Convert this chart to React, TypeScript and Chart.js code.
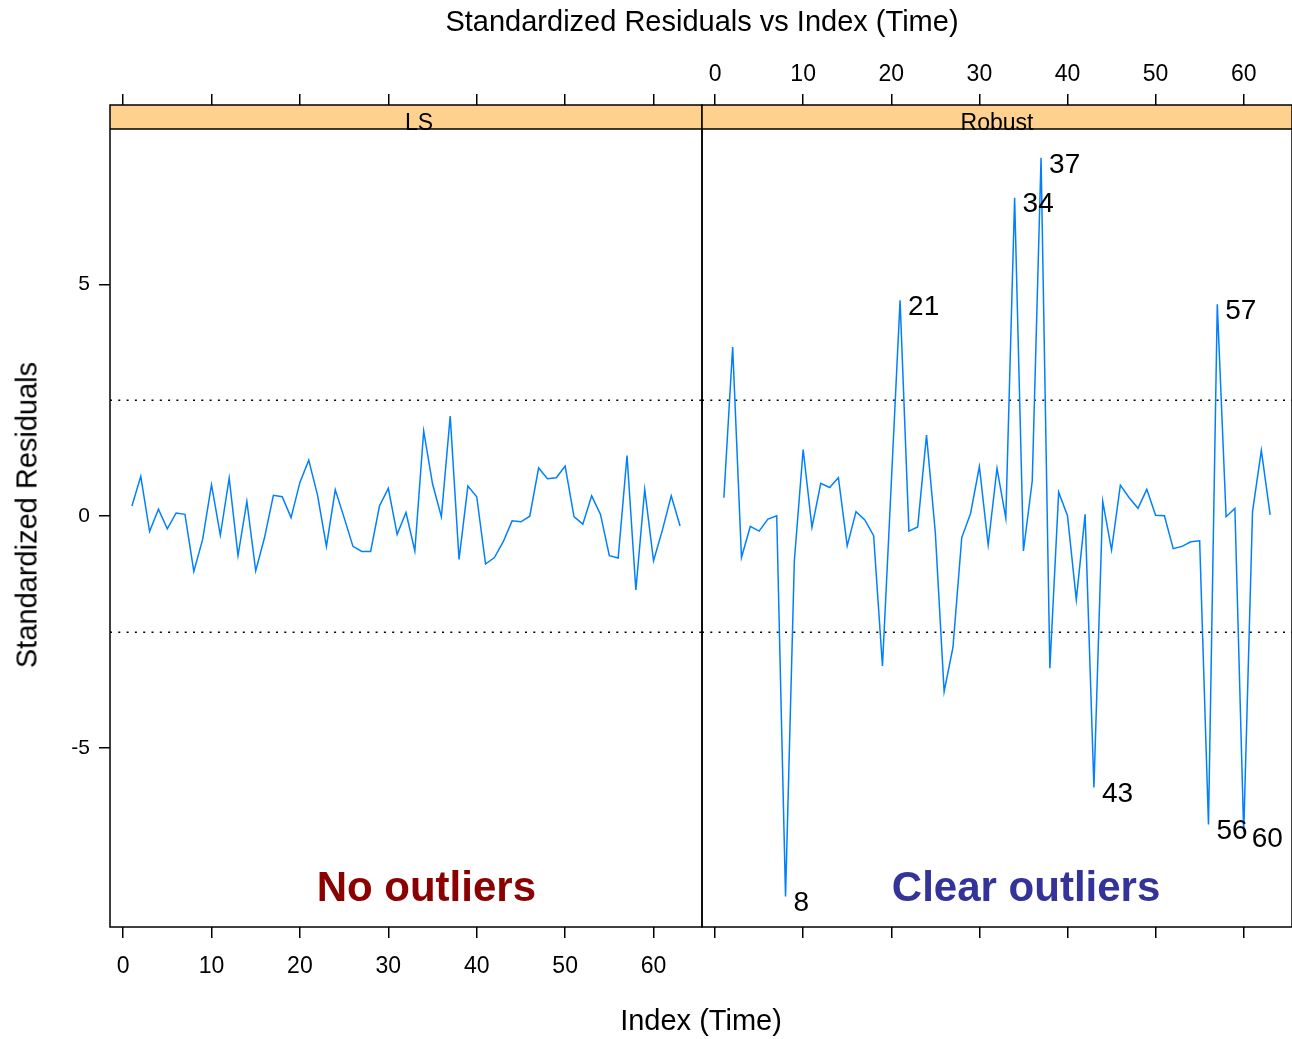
import React, { useEffect, useRef } from 'react';
import { Chart, registerables } from 'chart.js';

Chart.register(...registerables);

const FONT = '"Liberation Sans", Arial, Helvetica, sans-serif';

// ---- data ----
const timeIndex = [
  1, 2, 3, 4, 5, 6, 7, 8, 9, 10, 11, 12, 13, 14, 15, 16, 17, 18, 19, 20, 21,
  22, 23, 24, 25, 26, 27, 28, 29, 30, 31, 32, 33, 34, 35, 36, 37, 38, 39, 40, 41, 42,
  43, 44, 45, 46, 47, 48, 49, 50, 51, 52, 53, 54, 55, 56, 57, 58, 59, 60, 61, 62, 63,
];

const lsResiduals = [
  0.22, 0.86, -0.33, 0.15, -0.27, 0.07, 0.04, -1.19, -0.5, 0.68, -0.41, 0.82, -0.85, 0.32, -1.18,
  -0.46, 0.45, 0.42, -0.03, 0.73, 1.21, 0.45, -0.65, 0.57, -0.03, -0.65, -0.76, -0.76, 0.22, 0.6,
  -0.39, 0.08, -0.75, 1.84, 0.7, -0.01, 2.16, -0.93, 0.65, 0.42, -1.03, -0.89, -0.55, -0.1, -0.12,
  0.0, 1.04, 0.81, 0.83, 1.08, -0.01, -0.17, 0.44, 0.04, -0.85, -0.9, 1.31, -1.59, 0.58, -0.96,
  -0.3, 0.44, -0.21,
];

const robustResiduals = [
  0.4, 3.65, -0.89, -0.22, -0.32, -0.06, 0.01, -8.2, -0.96, 1.44, -0.24, 0.71, 0.62, 0.83, -0.64,
  0.1, -0.08, -0.42, -3.23, 0.7, 4.66, -0.32, -0.23, 1.75, -0.35, -3.78, -2.83, -0.46, 0.06, 1.07,
  -0.62, 1.03, -0.04, 6.87, -0.75, 0.76, 7.73, -3.28, 0.52, 0.01, -1.8, 0.04, -5.85, 0.32, -0.73,
  0.67, 0.4, 0.17, 0.58, 0.02, 0.01, -0.7, -0.65, -0.55, -0.53, -6.65, 4.57, -0.01, 0.17, -6.82,
  0.1, 1.42, 0.03,
];

const xTickValues = [0, 10, 20, 30, 40, 50, 60];
const yTickValues = [-5, 0, 5];
const cutoffValues = [2.5, -2.5];
const robustOutlierLabels = [8, 21, 34, 37, 43, 56, 57, 60];
const panelNames = ['LS', 'Robust'];
const panelNotes = ['No outliers', 'Clear outliers'];
const panelNoteX = [34.3, 35.3];
const panelNoteY = [-8.3, -8.3];

const X_MIN = -1.48;
const X_MAX = 65.48;
const Y_MIN = -8.86;
const Y_MAX = 8.87;

const STRIP_PX = 24;
const STRIP_FILL = '#ffd18f';
const LINE_COLOR = '#0080ff';
const NOTE_COLORS = ['#8b0000', '#333399'];

const W = 1292;
const H = 1039;
const PANEL_SPLIT = 702;

const panelDecor = {
  id: 'panelDecor',
  beforeDatasetsDraw(chart: any, _args: any, opts: any) {
    const { ctx, chartArea: a } = chart;
    ctx.save();
    ctx.fillStyle = STRIP_FILL;
    ctx.fillRect(a.left, a.top, a.right - a.left, STRIP_PX);
    ctx.fillStyle = '#000';
    ctx.font = `23px ${FONT}`;
    ctx.textAlign = 'center';
    ctx.textBaseline = 'alphabetic';
    ctx.fillText(opts.stripLabel, a.left + (a.right - a.left) * opts.stripFrac, a.top + STRIP_PX + 0.5);
    ctx.restore();
  },
  afterDatasetsDraw(chart: any, _args: any, opts: any) {
    const { ctx, chartArea: a } = chart;
    ctx.save();
    // frame + strip border
    ctx.strokeStyle = '#000';
    ctx.lineWidth = 1.5;
    ctx.strokeRect(a.left, a.top, a.right - a.left, a.bottom - a.top);
    ctx.beginPath();
    ctx.moveTo(a.left, a.top + STRIP_PX);
    ctx.lineTo(a.right, a.top + STRIP_PX);
    ctx.stroke();

    // outlier labels
    const meta = chart.getDatasetMeta(0);
    ctx.fillStyle = '#000';
    ctx.font = `28px ${FONT}`;
    ctx.textAlign = 'left';
    ctx.textBaseline = 'middle';
    (opts.pointLabels || []).forEach((lbl: number) => {
      const i = timeIndex.indexOf(lbl);
      const el = meta.data[i];
      if (el) ctx.fillText(String(lbl), el.x + 8, el.y + 7);
    });

    // panel note
    const xs = chart.scales.x;
    const ys = chart.scales.y;
    ctx.fillStyle = opts.noteColor;
    ctx.font = `bold 42px ${FONT}`;
    ctx.textAlign = 'center';
    ctx.textBaseline = 'alphabetic';
    ctx.fillText(opts.note, xs.getPixelForValue(opts.noteX), ys.getPixelForValue(opts.noteY));
    ctx.restore();
  },
};

function makeConfig(p: number): any {
  const isLeft = p === 0;
  const values = isLeft ? lsResiduals : robustResiduals;
  const xTickFont = { family: FONT, size: 23 };
  const yTickFont = { family: FONT, size: 21 };
  const grid = {
    display: true,
    drawOnChartArea: false,
    drawTicks: true,
    tickLength: 11,
    color: '#000',
    lineWidth: 1.5,
  };
  const setXTicks = (s: any) => {
    s.ticks = xTickValues.map((v) => ({ value: v }));
  };
  return {
    type: 'line',
    data: {
      datasets: [
        {
          data: timeIndex.map((t, i) => ({ x: t, y: values[i] })),
          borderColor: LINE_COLOR,
          borderWidth: 1.5,
          pointRadius: 0,
          tension: 0,
          fill: false,
        },
        ...cutoffValues.map((c) => ({
          data: [
            { x: X_MIN, y: c },
            { x: X_MAX, y: c },
          ],
          borderColor: '#000',
          borderWidth: 1.5,
          borderDash: [2, 6.3],
          pointRadius: 0,
          fill: false,
        })),
      ],
    },
    options: {
      responsive: false,
      animation: false,
      devicePixelRatio: 1,
      layout: {
        padding: isLeft
          ? { left: 0, right: W - PANEL_SPLIT, top: 0, bottom: 0 }
          : { left: PANEL_SPLIT, right: 0, top: 0, bottom: 0 },
      },
      scales: {
        x: {
          type: 'linear',
          position: 'bottom',
          min: X_MIN,
          max: X_MAX,
          afterBuildTicks: setXTicks,
          afterFit: (s: any) => {
            s.height = 112;
          },
          grid,
          border: { display: false },
          ticks: {
            display: isLeft,
            font: xTickFont,
            color: '#000',
            padding: 15,
            maxRotation: 0,
            autoSkip: false,
            callback: (v: any) => String(v),
          },
        },
        xTop: {
          type: 'linear',
          position: 'top',
          min: X_MIN,
          max: X_MAX,
          afterBuildTicks: setXTicks,
          afterFit: (s: any) => {
            s.height = 105;
          },
          grid,
          border: { display: false },
          ticks: {
            display: !isLeft,
            font: xTickFont,
            color: '#000',
            padding: 6,
            maxRotation: 0,
            autoSkip: false,
            callback: (v: any) => String(v),
          },
        },
        y: {
          type: 'linear',
          position: 'left',
          display: isLeft,
          min: Y_MIN,
          max: Y_MAX,
          afterBuildTicks: (s: any) => {
            s.ticks = yTickValues.map((v) => ({ value: v }));
          },
          afterFit: (s: any) => {
            s.width = isLeft ? 110 : 0;
          },
          grid,
          border: { display: false },
          ticks: {
            font: yTickFont,
            color: '#000',
            padding: 9,
            autoSkip: false,
            callback: (v: any) => String(v),
          },
        },
      },
      plugins: {
        legend: { display: false },
        tooltip: { enabled: false },
        title: { display: false },
        panelDecor: {
          stripLabel: panelNames[p],
          stripFrac: isLeft ? 0.522 : 0.5,
          pointLabels: isLeft ? [] : robustOutlierLabels,
          note: panelNotes[p],
          noteColor: NOTE_COLORS[p],
          noteX: panelNoteX[p],
          noteY: panelNoteY[p],
        },
      },
    },
    plugins: [panelDecor],
  };
}

export default function App() {
  const leftRef = useRef<HTMLCanvasElement | null>(null);
  const rightRef = useRef<HTMLCanvasElement | null>(null);

  useEffect(() => {
    const charts: Chart[] = [];
    if (leftRef.current) charts.push(new Chart(leftRef.current, makeConfig(0)));
    if (rightRef.current) charts.push(new Chart(rightRef.current, makeConfig(1)));
    return () => charts.forEach((c) => c.destroy());
  }, []);

  const textBase: React.CSSProperties = {
    position: 'absolute',
    fontFamily: FONT,
    color: '#000',
    lineHeight: 1,
    whiteSpace: 'nowrap',
  };

  return (
    <div
      style={{
        position: 'absolute',
        left: 0,
        top: 0,
        width: W,
        height: H,
        background: '#fff',
        overflow: 'hidden',
      }}
    >
      <canvas
        ref={leftRef}
        width={W}
        height={H}
        style={{ position: 'absolute', left: 0, top: 0, width: W, height: H }}
      />
      <canvas
        ref={rightRef}
        width={W}
        height={H}
        style={{ position: 'absolute', left: 0, top: 0, width: W, height: H }}
      />
      <div
        style={{
          ...textBase,
          fontSize: 29,
          left: 702,
          top: 21,
          transform: 'translate(-50%, -50%)',
        }}
      >
        Standardized Residuals vs Index (Time)
      </div>
      <div
        style={{
          ...textBase,
          fontSize: 29,
          left: 701,
          top: 1020,
          transform: 'translate(-50%, -50%)',
        }}
      >
        Index (Time)
      </div>
      <div
        style={{
          ...textBase,
          fontSize: 29,
          left: 27,
          top: 515,
          transform: 'translate(-50%, -50%) rotate(-90deg)',
        }}
      >
        Standardized Residuals
      </div>
    </div>
  );
}
